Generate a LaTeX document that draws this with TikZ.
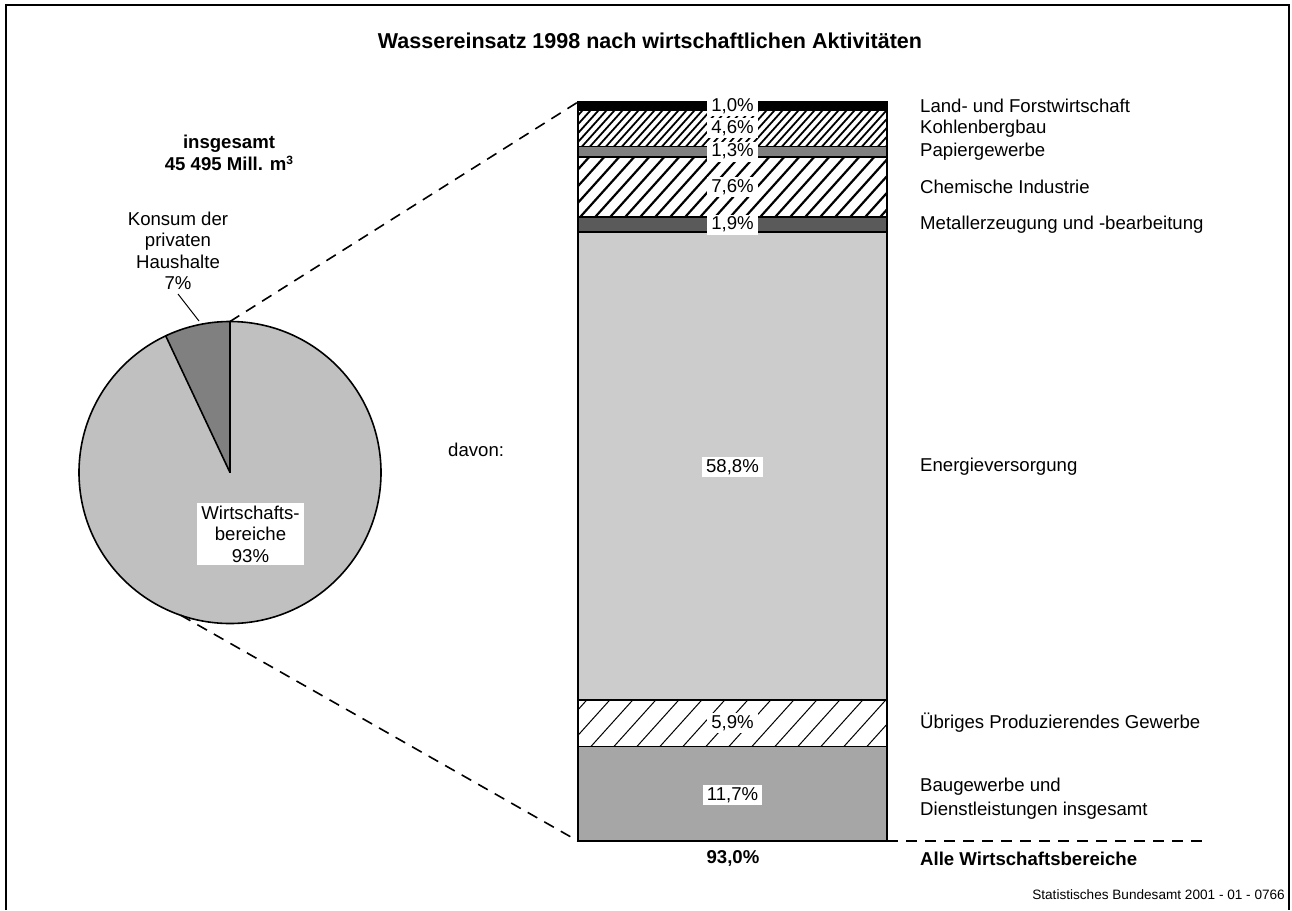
\documentclass[tikz,border=0pt]{standalone}
\usepackage{fontspec}
\setmainfont{Liberation Sans}
\usetikzlibrary{calc}
\definecolor{pielight}{HTML}{C0C0C0}
\definecolor{piedark}{HTML}{808080}
\definecolor{segpapier}{HTML}{808080}
\definecolor{segmetall}{HTML}{5A5A5A}
\definecolor{segenergie}{HTML}{CCCCCC}
\definecolor{segbau}{HTML}{A6A6A6}
\newcommand{\hband}[4]{%
  \begin{scope}
    \clip (578,#1) rectangle (887,#2);
    \pgfmathsetmacro{\hh}{#2-#1}
    \foreach \i in {0,...,60}{
      \draw[line width=#4] ({430+\i*#3},#2) -- ++({0.9*\hh},{-\hh});
    }
  \end{scope}}
\begin{document}
\begin{tikzpicture}[x=1pt,y=-1pt,
  txt/.style={font=\fontsize{18.6}{21.5}\selectfont, inner sep=0pt},
  btxt/.style={font=\fontsize{18.6}{21.5}\selectfont\bfseries, inner sep=0pt},
  pct/.style={font=\fontsize{18.6}{21.5}\selectfont, fill=white, inner xsep=4pt, inner ysep=2pt, text height=13pt, text depth=3pt},
  segline/.style={draw=black, line width=1.8pt},
  dashline/.style={line width=1.6pt, dash pattern=on 11pt off 8pt},
  edge/.style={line width=1.6pt}]
\useasboundingbox (0,0) rectangle (1292,910);
% frame
\draw[line width=2pt] (6,910) -- (6,5) -- (1289,5) -- (1289,910);
% title
\node[font=\fontsize{21.5}{24}\selectfont\bfseries, inner sep=0pt] (title) at (650,41) {Wassereinsatz 1998 nach wirtschaftlichen Aktivitäten};
% total
\node[btxt, align=center] (total) at (229,153) {insgesamt\\45 495 Mill. m\raisebox{0.55ex}{\fontsize{12}{12}\selectfont 3}};
% pie
\coordinate (pc) at (230,472.5);
\fill[pielight] (pc) circle (151);
\fill[piedark] (pc) -- ++(-90:151) arc[start angle=-90, end angle=-115.2, radius=151] -- cycle;
\draw[edge] (pc) circle (151);
\draw[edge] (pc) -- ++(-90:151) coordinate (pietop);
\draw[edge] (pc) -- ++(-115.2:151);
\coordinate (piebot) at ($(pc)+(109:151)$);
% pie labels
\node[txt, align=center] (konsum) at (178,251) {Konsum der\\privaten\\Haushalte\\7\%};
\coordinate (ldA) at (178,294);
\coordinate (ldB) at (199,321);
\draw[line width=1pt] (ldA) -- (ldB);
\node[txt, align=center, fill=white, inner xsep=4pt, inner ysep=3pt] (wirt) at (250.5,534) {Wirtschafts-\\bereiche\\93\%};
% bar
\coordinate (bartl) at (578,102);
\coordinate (barbl) at (578,841);
\coordinate (barbr) at (887,841);
\fill[black] (578,102) rectangle (887,109.95);
\hband{109.95}{146.5}{8}{1.8pt}
\fill[segpapier] (578,146.5) rectangle (887,156.8);
\hband{156.8}{217.2}{15}{2.2pt}
\fill[segmetall] (578,217.2) rectangle (887,232.3);
\fill[segenergie] (578,232.3) rectangle (887,699.6);
\hband{699.6}{746.4}{23}{1pt}
\fill[segbau] (578,746.4) rectangle (887,841);
\foreach \a/\b in {102/109.95,109.95/146.5,146.5/156.8,156.8/217.2,217.2/232.3,232.3/699.6,699.6/746.4,746.4/841}{
  \draw[segline] (578,\a) rectangle (887,\b);
}
% dashed connectors
\draw[dashline] (pietop) -- (bartl);
\draw[dashline] (piebot) -- (barbl);
\coordinate (dashend) at (1203,841);
\draw[dashline] (barbr) -- (dashend);
% bar percentages
\node[pct] (p1) at (732.5,106) {1,0\%};
\node[pct] (p2) at (732.5,128.3) {4,6\%};
\node[pct] (p3) at (732.5,151.7) {1,3\%};
\node[pct] (p4) at (732.5,187) {7,6\%};
\node[pct] (p5) at (732.5,224.8) {1,9\%};
\node[pct] (p6) at (732.5,467) {58,8\%};
\node[pct] (p7) at (732.5,723) {5,9\%};
\node[pct] (p8) at (732.5,795) {11,7\%};
\node[btxt] (sum) at (733,858) {93,0\%};
% right labels
\node[txt, anchor=west] (l1) at (920,106) {Land- und Forstwirtschaft};
\node[txt, anchor=west] (l2) at (920,128.3) {Kohlenbergbau};
\node[txt, anchor=west] (l3) at (920,151.7) {Papiergewerbe};
\node[txt, anchor=west] (l4) at (920,187) {Chemische Industrie};
\node[txt, anchor=west] (l5) at (920,224.8) {Metallerzeugung und -bearbeitung};
\node[txt, anchor=west] (l6) at (920,467) {Energieversorgung};
\node[txt, anchor=west] (l7) at (920,723) {Übriges Produzierendes Gewerbe};
\node[txt, anchor=west, align=left, font=\fontsize{18.6}{24}\selectfont] (l8) at (920,799) {Baugewerbe und\\Dienstleistungen insgesamt};
\node[btxt, anchor=west] (lall) at (920,859) {Alle Wirtschaftsbereiche};
\node[txt, anchor=west] (davon) at (448,450) {davon:};
% footer
\node[font=\fontsize{13.6}{16}\selectfont, inner sep=0pt, anchor=east] (foot) at (1285,895) {Statistisches Bundesamt 2001 - 01 - 0766};
\end{tikzpicture}
\end{document}
